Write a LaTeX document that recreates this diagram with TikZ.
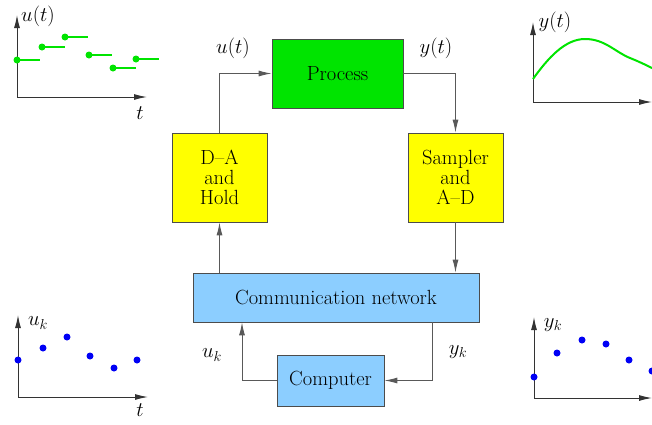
\documentclass[tikz,border=0pt]{standalone}
\usepackage{tikz}
\usetikzlibrary{arrows.meta,positioning,calc}

\definecolor{procgreen}{RGB}{0,228,0}
\definecolor{boxyellow}{RGB}{255,255,0}
\definecolor{netblue}{RGB}{140,206,255}
\definecolor{dotblue}{RGB}{0,0,245}

\begin{document}
\begin{tikzpicture}[x=1pt,y=-1pt,
  font=\fontsize{20.5}{20}\selectfont,
  b/.style={draw=black!70,line width=0.8pt,align=center,inner sep=0pt},
  l/.style={draw=black!65,line width=0.9pt,-{Latex[length=13pt,width=6pt]}},
  ax/.style={draw=black!80,line width=1pt,-{Latex[length=13pt,width=6pt]}},
  stepline/.style={draw=procgreen,line width=1.8pt},
  lbl/.style={inner sep=1pt}]

\useasboundingbox (0,0) rectangle (652,424);

% blocks
\node[b,fill=procgreen,minimum width=131pt,minimum height=69pt] (proc) at (337.5,73.5) {Process};
\node[b,fill=boxyellow,minimum width=95pt,minimum height=89pt] (dah) at (219.5,177.5) {D--A\\and\\Hold};
\node[b,fill=boxyellow,minimum width=95pt,minimum height=89pt] (sad) at (455.5,177.5) {Sampler\\and\\A--D};
\node[b,fill=netblue,minimum width=286pt,minimum height=49pt] (net) at (336,297.5) {Communication network};
\node[b,fill=netblue,minimum width=107pt,minimum height=51pt] (comp) at (330.5,380.5) {Computer};

% signal labels
\node[lbl] (ut) at (233,48) {$u(t)$};
\node[lbl] (yt) at (436,48) {$y(t)$};
\node[lbl] (uk) at (212,355) {$u_k$};
\node[lbl] (yk) at (458,352) {$y_k$};

% loop
\coordinate (cr) at (432,378);
\coordinate (cl) at (242,385);
\draw[l] (dah.north) |- (proc.west);
\draw[l] (proc.east) -| (sad.north);
\draw[l] (sad.south) -- (net.north -| sad.south);
\draw[l] (net.north -| dah.south) -- (dah.south);
\draw[l] (net.south -| cr) |- (comp.east);
\draw[l] (comp.west) -| (net.south -| cl);

% u(t): held samples
\draw[ax] (17,97) -- (17,15);
\draw[ax] (17,97) -- (147,97);
\node[lbl] (uta) at (38,16) {$u(t)$};
\node[lbl] (utt) at (140,113) {$t$};
\foreach \x/\y in {17/60,42/47,65/37,89/55,113/68,136/59} {
  \draw[stepline] (\x,\y) -- ++(23,0);
  \fill[procgreen] (\x,\y) circle[radius=3.5pt];
}

% y(t): continuous output
\draw[ax] (533,102) -- (533,22);
\draw[ax] (533,102) -- (652,102);
\node[lbl] (yta) at (555,22) {$y(t)$};
\node[lbl] (ytt) at (657,118) {$t$};
\draw[procgreen,line width=2pt] (533,79) .. controls (548,58) and (565,39) .. (585,39)
  .. controls (605,39) and (615,52) .. (630,58) .. controls (640,62) and (648,66) .. (656,70);

% u_k: computer samples
\draw[ax] (18,397) -- (18,315);
\draw[ax] (18,397) -- (148,397);
\node[lbl] (uka) at (38,323) {$u_k$};
\node[lbl] (ukt) at (140,410) {$t$};
\foreach \x/\y in {18/360,43/348,67/337,90/356,114/368,137/360}
  \fill[dotblue] (\x,\y) circle[radius=3.5pt];

% y_k: sampled output
\draw[ax] (534,398) -- (534,317);
\draw[ax] (534,398) -- (652,398);
\node[lbl] (yka) at (553,325) {$y_k$};
\foreach \x/\y in {534/377,557/353,582/340,606/344,629/360,652/371}
  \fill[dotblue] (\x,\y) circle[radius=3.5pt];
\end{tikzpicture}
\end{document}
